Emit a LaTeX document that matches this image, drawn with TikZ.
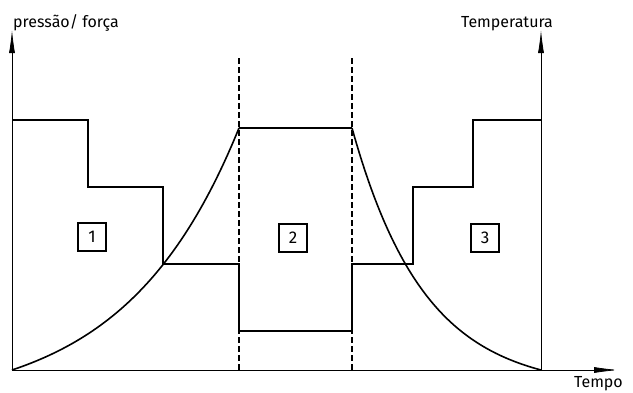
\documentclass[tikz,border=0pt]{standalone}
\usepackage{fontspec}
\setmainfont{Fira Sans}
\usetikzlibrary{positioning, arrows.meta}

\tikzset{
	axis/.style={line width=.8pt, -{Latex[length=23pt,width=6pt]}},
	curve/.style={line width=1.6pt},
	limit/.style={line width=1.4pt, dash pattern=on 6pt off 3pt},
	numbox/.style={draw, line width=1.2pt, minimum size=28pt, inner sep=0pt, font=\fontsize{17}{19}\selectfont},
	lbl/.style={font=\fontsize{16}{18}\selectfont, inner sep=0pt}
}

\begin{document}
\begin{tikzpicture}[x=1pt, y=-1pt]
	\useasboundingbox (0,0) rectangle (633,392);
	\coordinate (O) at (12,370);
	\coordinate (R) at (541,370);
	\coordinate (ytop) at (12,30);
	\coordinate (ttop) at (541,30);
	\coordinate (xend) at (619,370);
	\draw[axis] (O) -- (ytop);
	\draw[axis] (R) -- (ttop);
	\draw[line width=.8pt, -{Latex[length=25pt,width=6pt]}] (O) -- (xend);
	\node[lbl, anchor=base west] (p) at (13,27) {pressão/ força};
	\node[lbl, anchor=base] (T) at (507,27) {Temperatura};
	\node[lbl, below left=6pt and -4pt of xend] (t) {Tempo};
	\coordinate (d1) at (239,58);
	\coordinate (d2) at (352,58);
	\draw[limit] (d1) -- (d1 |- O);
	\draw[limit] (d2) -- (d2 |- O);
	\draw[curve] (12,120) -| (88,187) -| (163,264) -| (239,331) -| (352,264) -| (413,187) -| (473,120) -- (541,120);
	\draw[curve, domain=12:239, samples=60] plot (\x, {370-242*(exp(2*(\x-12)/227)-1)/(exp(2)-1)});
	\draw[curve] (239,128) -- (352,128);
	\draw[curve, domain=352:541, samples=60] plot (\x, {370-242*(exp(2.6*(541-\x)/189)-1)/(exp(2.6)-1)});
	\node[numbox] (n1) at (92,237) {1};
	\node[numbox] (n2) at (293,238) {2};
	\node[numbox] (n3) at (485,238) {3};
\end{tikzpicture}
\end{document}
